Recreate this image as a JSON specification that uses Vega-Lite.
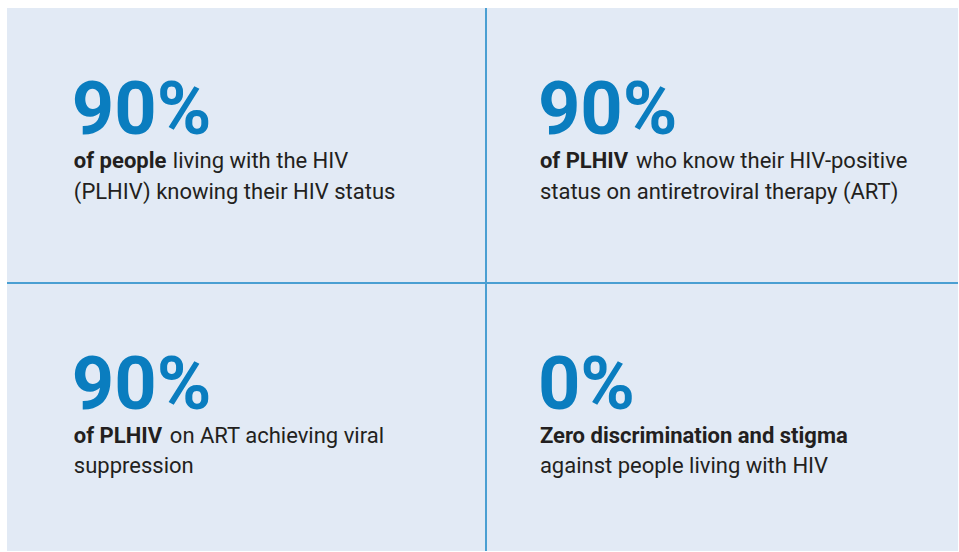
{
  "$schema": "https://vega.github.io/schema/vega-lite/v6.json",
  "width": 959,
  "height": 552,
  "autosize": {"type": "fit", "contains": "padding"},
  "padding": {"left": 6, "top": 7, "right": 0, "bottom": 0},
  "background": "#ffffff",
  "config": {"view": {"fill": "#e2eaf5", "stroke": null}},
  "datasets": {
    "targets": [
      {"col": 0, "row": 0, "number": "90%", "bold1": "of people", "rest1": "living with the HIV", "line2": "(PLHIV) knowing their HIV status"},
      {"col": 1, "row": 0, "number": "90%", "bold1": "of PLHIV", "rest1": "who know their HIV-positive", "line2": "status on antiretroviral therapy (ART)"},
      {"col": 0, "row": 1, "number": "90%", "bold1": "of PLHIV", "rest1": "on ART achieving viral", "line2": "suppression"},
      {"col": 1, "row": 1, "number": "0%", "bold1": "Zero discrimination and stigma", "rest1": "", "line2": "against people living with HIV"}
    ],
    "dividers": [{"pos": 1}]
  },
  "resolve": {"scale": {"x": "independent"}, "axis": {"x": "independent"}},
  "layer": [
    {
      "data": {"name": "dividers"},
      "mark": {"type": "rule", "stroke": "#4a9fd2", "strokeWidth": 2},
      "encoding": {
        "x": {"field": "pos", "type": "quantitative", "scale": {"domain": [0, 1.9854], "nice": false, "zero": false}, "axis": null}
      }
    },
    {
      "data": {"name": "dividers"},
      "mark": {"type": "rule", "stroke": "#4a9fd2", "strokeWidth": 2},
      "encoding": {
        "y": {"field": "pos", "type": "quantitative", "scale": {"domain": [0, 1.9746], "nice": false, "zero": false, "reverse": true}, "axis": null}
      }
    },
    {
      "data": {"name": "targets"},
      "mark": {"type": "text", "align": "left", "baseline": "alphabetic", "dy": 126, "dx": -2, "font": "Roboto", "fontWeight": "bold", "fontSize": 74, "color": "#0a7dbf"},
      "encoding": {
        "x": {"field": "col", "type": "quantitative", "scale": {"domain": [-0.14347, 1.89722], "nice": false, "zero": false}, "axis": null},
        "y": {"field": "row", "type": "quantitative", "scale": {"domain": [0, 1.9746], "nice": false, "zero": false, "reverse": true}, "axis": null},
        "text": {"field": "number"}
      }
    },
    {
      "data": {"name": "targets"},
      "mark": {"type": "text", "align": "left", "baseline": "alphabetic", "dy": 160, "font": "Roboto", "fontWeight": "bold", "fontSize": 22, "color": "#231f20"},
      "encoding": {
        "x": {"field": "col", "type": "quantitative", "scale": {"domain": [-0.14347, 1.89722], "nice": false, "zero": false}, "axis": null},
        "y": {"field": "row", "type": "quantitative", "scale": {"domain": [0, 1.9746], "nice": false, "zero": false, "reverse": true}, "axis": null},
        "text": {"field": "bold1"}
      }
    },
    {
      "data": {"name": "targets"},
      "transform": [{"filter": "datum.bold1 === 'of people'"}],
      "mark": {"type": "text", "align": "left", "baseline": "alphabetic", "dy": 160, "dx": 99, "font": "Roboto", "fontSize": 22, "color": "#231f20"},
      "encoding": {
        "x": {"field": "col", "type": "quantitative", "scale": {"domain": [-0.14347, 1.89722], "nice": false, "zero": false}, "axis": null},
        "y": {"field": "row", "type": "quantitative", "scale": {"domain": [0, 1.9746], "nice": false, "zero": false, "reverse": true}, "axis": null},
        "text": {"field": "rest1"}
      }
    },
    {
      "data": {"name": "targets"},
      "transform": [{"filter": "datum.bold1 === 'of PLHIV'"}],
      "mark": {"type": "text", "align": "left", "baseline": "alphabetic", "dy": 160, "dx": 96, "font": "Roboto", "fontSize": 22, "color": "#231f20"},
      "encoding": {
        "x": {"field": "col", "type": "quantitative", "scale": {"domain": [-0.14347, 1.89722], "nice": false, "zero": false}, "axis": null},
        "y": {"field": "row", "type": "quantitative", "scale": {"domain": [0, 1.9746], "nice": false, "zero": false, "reverse": true}, "axis": null},
        "text": {"field": "rest1"}
      }
    },
    {
      "data": {"name": "targets"},
      "mark": {"type": "text", "align": "left", "baseline": "alphabetic", "dy": 190.5, "font": "Roboto", "fontSize": 22, "color": "#231f20"},
      "encoding": {
        "x": {"field": "col", "type": "quantitative", "scale": {"domain": [-0.14347, 1.89722], "nice": false, "zero": false}, "axis": null},
        "y": {"field": "row", "type": "quantitative", "scale": {"domain": [0, 1.9746], "nice": false, "zero": false, "reverse": true}, "axis": null},
        "text": {"field": "line2"}
      }
    }
  ]
}
